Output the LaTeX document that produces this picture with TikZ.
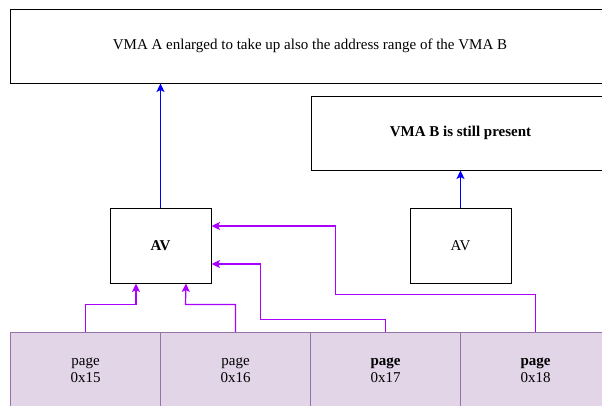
\documentclass[tikz,border=0pt]{standalone}
\usepackage{fontspec}
\setmainfont{Liberation Serif}
\usetikzlibrary{arrows.meta,positioning}
\definecolor{vpurple}{HTML}{AA00FF}
\definecolor{pagefill}{HTML}{E1D5E7}
\definecolor{pageline}{HTML}{9673A6}

\begin{document}
\begin{tikzpicture}[x=1pt, y=-1pt, font=\fontsize{15}{17}\selectfont,
  box/.style={draw, line width=1pt, fill=white, inner sep=2pt, align=center},
  pagebox/.style={draw=pageline, line width=0.9pt, fill=pagefill, minimum width=150pt, minimum height=75pt, inner sep=2pt, align=center},
  barr/.style={-{Stealth[length=8.5pt, width=8pt, inset=2pt]}, line width=1.2pt, draw=blue},
  parr/.style={-{Stealth[length=8.5pt, width=8pt, inset=2pt]}, line width=1.2pt, draw=vpurple}]
  \useasboundingbox (0,0) rectangle (602,405);
  \clip (0,0) rectangle (602,405);
  % vmas
  \node[box, minimum width=600pt, minimum height=74pt] (vmaa) at (310,46) {VMA A enlarged to take up also the address range of the VMA B};
  \node[box, minimum width=299pt, minimum height=74pt] (vmab) at (460.5,133) {\textbf{VMA B is still present}};
  % anon vmas
  \node[box, minimum width=101pt, minimum height=75pt] (ava) at (160.5,245.5) {\textbf{AV}};
  \node[box, minimum width=101pt, minimum height=75pt] (avb) at (460.5,245.5) {AV};
  % pages
  \node[pagebox] (p15) at (85.5,370)  {page\\0x15};
  \node[pagebox] (p16) at (235.5,370) {page\\0x16};
  \node[pagebox] (p17) at (385.5,370) {\textbf{page}\\0x17};
  \node[pagebox] (p18) at (535.5,370) {\textbf{page}\\0x18};
  \draw[barr] (ava) -- (ava |- vmaa.south);
  \draw[barr] (avb) -- (vmab);
  \draw[parr] (p15.north) |- ++(50.5,-27.5) -- ([xshift=-24.5pt]ava.south);
  \draw[parr] (p16.north) |- ++(-50,-27.5) -- ([xshift=25.5pt]ava.south);
  \draw[parr] (p17.north) |- ++(-125,-12.5) |- ([yshift=-18.5pt]ava.east);
  \draw[parr] (p18.north) |- ++(-200,-37.5) |- ([yshift=19.5pt]ava.east);
\end{tikzpicture}
\end{document}
